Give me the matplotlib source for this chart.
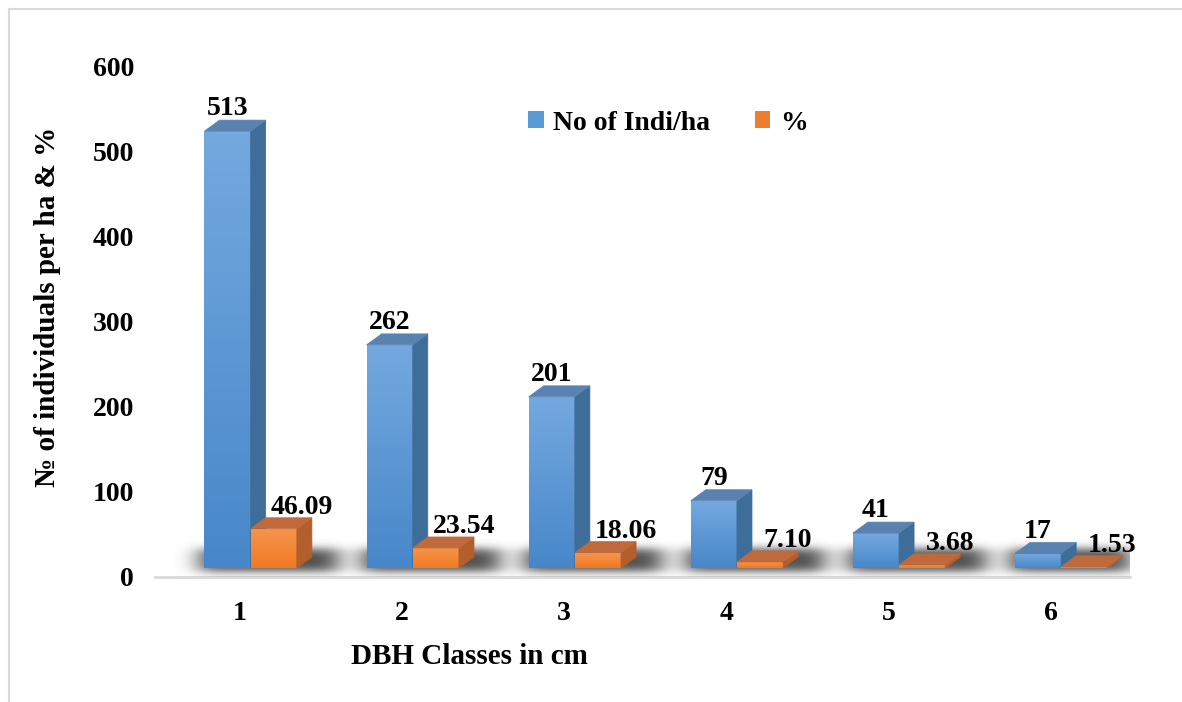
import numpy as np
import matplotlib.pyplot as plt
from matplotlib.patches import Polygon, Patch
from matplotlib.lines import Line2D
from matplotlib.colors import LinearSegmentedColormap
from matplotlib.transforms import ScaledTranslation

classes = ['1', '2', '3', '4', '5', '6']
indiv_per_ha = [513, 262, 201, 79, 41, 17]
percent = [46.09, 23.54, 18.06, 7.10, 3.68, 1.53]
series_names = ['No of Indi/ha', '%']

FONT = ['Liberation Serif', 'DejaVu Serif']
plt.rcParams['font.family'] = FONT
plt.rcParams['font.weight'] = 'bold'
FS = 20

W = 0.285      # bar width (category units)
DX = 0.093     # depth offset of the back faces, x units
DY = 12.9      # depth offset of the back faces, y units

blue = dict(top_c='#74a9df', bot_c='#4787c9', side='#3f6d9a', cap='#5a82b1', key='#5b9bd5')
orange = dict(top_c='#f7954d', bot_c='#ef7a22', side='#b35f2d', cap='#c06a3c', key='#ed7d31')

fig = plt.figure(figsize=(11.82, 7.02), dpi=100)
ax = fig.add_axes([155 / 1182, 125 / 702, 975 / 1182, 511 / 702])
ax.set_xlim(0.475, 6.49)
ax.set_ylim(0, 600)

# the bars stand on a floor drawn slightly above the value axis zero
tr = ax.transData + ScaledTranslation(0, 0.09, fig.dpi_scale_trans)

x = np.arange(1, len(classes) + 1)
blue_left = x - 0.22
orange_left = x + 0.065

# soft floor shadow behind each pair of bars
gx = np.linspace(0.475, 6.49, 1400)
gy = np.linspace(-20, 60, 160)
field = np.zeros((gy.size, gx.size))
for bl, ol in zip(blue_left, orange_left):
    inx = (gx > bl - 0.03) & (gx < ol + W + DX + 0.16)
    iny = (gy > -4) & (gy < DY + 9)
    field[np.ix_(iny, inx)] = 1.0


def blur(a, sigma, axis):
    k = np.arange(-3 * int(sigma), 3 * int(sigma) + 1)
    k = np.exp(-0.5 * (k / sigma) ** 2)
    k /= k.sum()
    return np.apply_along_axis(lambda r: np.convolve(r, k, mode='same'), axis, a)


field = blur(blur(field, 16, 1), 10, 0)
shadow = np.zeros(field.shape + (4,))
shadow[..., :3] = 0.2
shadow[..., 3] = np.clip(field * 0.85, 0, 1)
ax.imshow(shadow, extent=(gx[0], gx[-1], gy[0], gy[-1]), origin='lower',
          aspect='auto', transform=tr, zorder=2, interpolation='bilinear')


def draw_bars(left, values, c):
    bars = ax.bar(left, values, W, align='edge', color=c['bot_c'],
                  transform=tr, zorder=3, linewidth=0)
    cmap = LinearSegmentedColormap.from_list('', [c['bot_c'], c['top_c']])
    grad = np.linspace(0, 1, 128).reshape(-1, 1)
    for b, l, h in zip(bars, left, values):
        im = ax.imshow(grad, cmap=cmap, origin='lower', aspect='auto',
                       extent=(l, l + W, 0, h), transform=tr, zorder=3)
        im.set_clip_path(b)
        side = Polygon([(l + W, 0), (l + W + DX, DY), (l + W + DX, h + DY), (l + W, h)],
                       closed=True, transform=tr, facecolor=c['side'],
                       edgecolor=c['side'], lw=0.5, zorder=3)
        cap = Polygon([(l, h), (l + DX, h + DY), (l + W + DX, h + DY), (l + W, h)],
                      closed=True, transform=tr, facecolor=c['cap'],
                      edgecolor=c['cap'], lw=0.5, zorder=3)
        ax.add_patch(side)
        ax.add_patch(cap)


draw_bars(blue_left, indiv_per_ha, blue)
draw_bars(orange_left, percent, orange)

# value labels
for l, v in zip(blue_left, indiv_per_ha):
    ax.annotate(f'{v}', (l + W / 2, v), xytext=(0, 19), textcoords='offset pixels',
                ha='center', va='bottom', fontsize=FS, fontweight='bold', zorder=5)
for l, v in zip(orange_left, percent):
    ax.annotate(f'{v:.2f}', (l + W / 2, v), xytext=(28, 18), textcoords='offset pixels',
                ha='center', va='bottom', fontsize=FS, fontweight='bold', zorder=5)

ax.axhline(0, color='#d9d9d9', lw=2, zorder=1, clip_on=False)
for s in ax.spines.values():
    s.set_visible(False)
ax.set_yticks(range(0, 700, 100))
ax.set_xticks(x)
ax.set_xticklabels(classes)
ax.tick_params(axis='y', length=0, pad=15, labelsize=FS)
ax.tick_params(axis='x', length=0, pad=17, labelsize=FS)

fig.text(469 / 1182, 1 - 657 / 702, 'DBH Classes in cm', ha='center', va='center',
         fontsize=21, fontweight='bold')
fig.text(48 / 1182, 1 - 307 / 702, '№ of individuals per ha & %', ha='center',
         va='center', rotation=90, fontsize=21, fontweight='bold')

handles = [Patch(facecolor=blue['key']), Patch(facecolor=orange['key'])]
fig.legend(handles, series_names, loc='center', bbox_to_anchor=(668 / 1182, 1 - 123 / 702),
           ncol=2, frameon=False, fontsize=FS, handlelength=0.55, handleheight=0.55,
           handletextpad=0.35, columnspacing=1.6)

# chart area outline (left and top edges)
fig.add_artist(Line2D([8.5 / 1182, 8.5 / 1182], [0, 1 - 9 / 702], color='#d9d9d9', lw=1.5))
fig.add_artist(Line2D([8.5 / 1182, 1], [1 - 9 / 702, 1 - 9 / 702], color='#d9d9d9', lw=1.5))

fig.savefig('out.png', dpi=100, facecolor='white')
